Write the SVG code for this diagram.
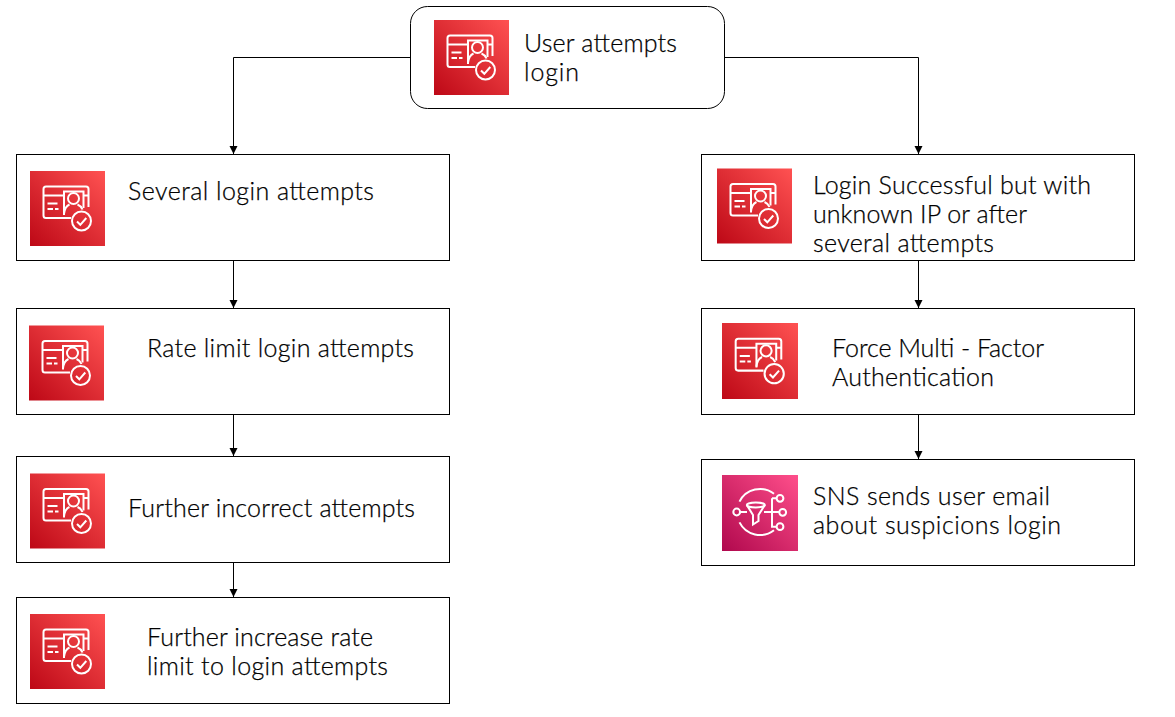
<svg xmlns="http://www.w3.org/2000/svg" width="1175" height="717" viewBox="0 0 1175 717">
<style>
.box{fill:#fff;stroke:#000;stroke-width:1}
.c{fill:none;stroke:#000;stroke-width:1}
.t{font-family:"Lato","Noto Sans",sans-serif;font-size:25px;font-weight:300;fill:#000;stroke:#000;stroke-width:.25}
.g{fill:none;stroke:#fff;stroke-width:2}
</style>
<defs>
<linearGradient id="red" x1="0" y1="1" x2="1" y2="0"><stop offset="0" stop-color="#BD0816"/><stop offset="1" stop-color="#FF5252"/></linearGradient>
<linearGradient id="pink" x1="0" y1="1" x2="1" y2="0"><stop offset="0" stop-color="#B0084D"/><stop offset="1" stop-color="#FF4F8B"/></linearGradient>
<marker id="arr" markerUnits="userSpaceOnUse" markerWidth="10" markerHeight="10" refX="8" refY="4" orient="auto"><path d="M0 0L8 4L0 8Z" fill="#000"/></marker>
<symbol id="iam" viewBox="0 0 75 75">
<rect width="75" height="75" fill="url(#red)"/>
<path class="g" d="M41 47H16Q13.500 47 13.500 44.500V18Q13.500 15.500 16 15.500H56Q58.500 15.500 58.500 18V36M13.500 24.500H34M53.500 24.500H58.500"/>
<path class="g" d="M34 44V20.500H53.500V37M17.500 32.500H27.500M17.500 38H23M25 38H28.500"/>
<circle class="g" cx="43.500" cy="27.500" r="5.500"/>
<path class="g" d="M34 43C34.500 38 36 35 39.500 33.500M47.500 33.500C50 34.500 51.500 36 52.500 38.500"/>
<circle cx="51.500" cy="50" r="9.500" class="g"/>
<path class="g" d="M47 50.500L50.300 53.800L56.300 47"/>
</symbol>
<symbol id="sns" viewBox="0 0 76 76">
<rect width="76" height="76" fill="url(#pink)"/>
<path class="g" d="M52 18.700A23 23 0 0 0 17.500 26.600M17.500 47.400A23 23 0 0 0 52 55.300"/>
<circle class="g" cx="14.700" cy="37" r="3.400"/><circle class="g" cx="58" cy="23.300" r="3.400"/><circle class="g" cx="60.700" cy="37.300" r="3.400"/><circle class="g" cx="58" cy="51.700" r="3.400"/>
<path class="g" d="M18 37H25M42 37H57.300M50 23.300V51.700H54.600M50 23.300H54.600"/>
<ellipse class="g" cx="33.800" cy="30" rx="9" ry="2.500"/>
<path class="g" d="M24.800 30L31 40V49.500L36.500 46V40L42.800 30"/>
</symbol>
</defs>
<g id="connectors">
<path class="c" marker-end="url(#arr)" d="M410.500 57.500H233.500V154"/>
<path class="c" marker-end="url(#arr)" d="M724.500 57.500H918.500V154"/>
<path class="c" marker-end="url(#arr)" d="M233.500 260.500V308"/>
<path class="c" marker-end="url(#arr)" d="M233.500 414.500V456"/>
<path class="c" marker-end="url(#arr)" d="M233.500 562.500V597"/>
<path class="c" marker-end="url(#arr)" d="M918.500 260.500V308"/>
<path class="c" marker-end="url(#arr)" d="M918.500 414.500V459"/>
</g>
<g id="node-user"><rect class="box" x="410.500" y="6.500" width="314" height="102" rx="17"/><use href="#iam" x="434" y="20" width="75" height="75"/><text class="t" x="524" y="52" textLength="153">User attempts</text><text class="t" x="524" y="81" textLength="55">login</text></g>
<g id="node-several"><rect class="box" x="16.500" y="154.500" width="433" height="106"/><use href="#iam" x="30" y="171" width="75" height="75"/><text class="t" x="128" y="200" textLength="246">Several login attempts</text></g>
<g id="node-rate"><rect class="box" x="16.500" y="308.500" width="433" height="106"/><use href="#iam" x="29" y="325" width="75" height="76"/><text class="t" x="147" y="357" textLength="267">Rate limit login attempts</text></g>
<g id="node-further"><rect class="box" x="16.500" y="456.500" width="433" height="106"/><use href="#iam" x="30" y="473" width="75" height="76"/><text class="t" x="128" y="517" textLength="287">Further incorrect attempts</text></g>
<g id="node-increase"><rect class="box" x="16.500" y="597.500" width="433" height="106"/><use href="#iam" x="30" y="614" width="75" height="75"/><text class="t" x="147" y="646" textLength="226">Further increase rate</text><text class="t" x="147" y="675" textLength="241">limit to login attempts</text></g>
<g id="node-success"><rect class="box" x="701.500" y="154.500" width="433" height="106"/><use href="#iam" x="717" y="168" width="75" height="76"/><text class="t" x="813" y="194" textLength="278">Login Successful but with</text><text class="t" x="813" y="223" textLength="214">unknown IP or after</text><text class="t" x="813" y="252" textLength="181">several attempts</text></g>
<g id="node-mfa"><rect class="box" x="701.500" y="308.500" width="433" height="106"/><use href="#iam" x="722" y="323" width="76" height="76"/><text class="t" x="832" y="357" textLength="212">Force Multi - Factor</text><text class="t" x="832" y="386" textLength="162">Authentication</text></g>
<g id="node-sns"><rect class="box" x="701.500" y="459.500" width="433" height="106"/><use href="#sns" x="722" y="475" width="76" height="76"/><text class="t" x="813" y="505" textLength="237">SNS sends user email</text><text class="t" x="813" y="534" textLength="248">about suspicions login</text></g>
</svg>
